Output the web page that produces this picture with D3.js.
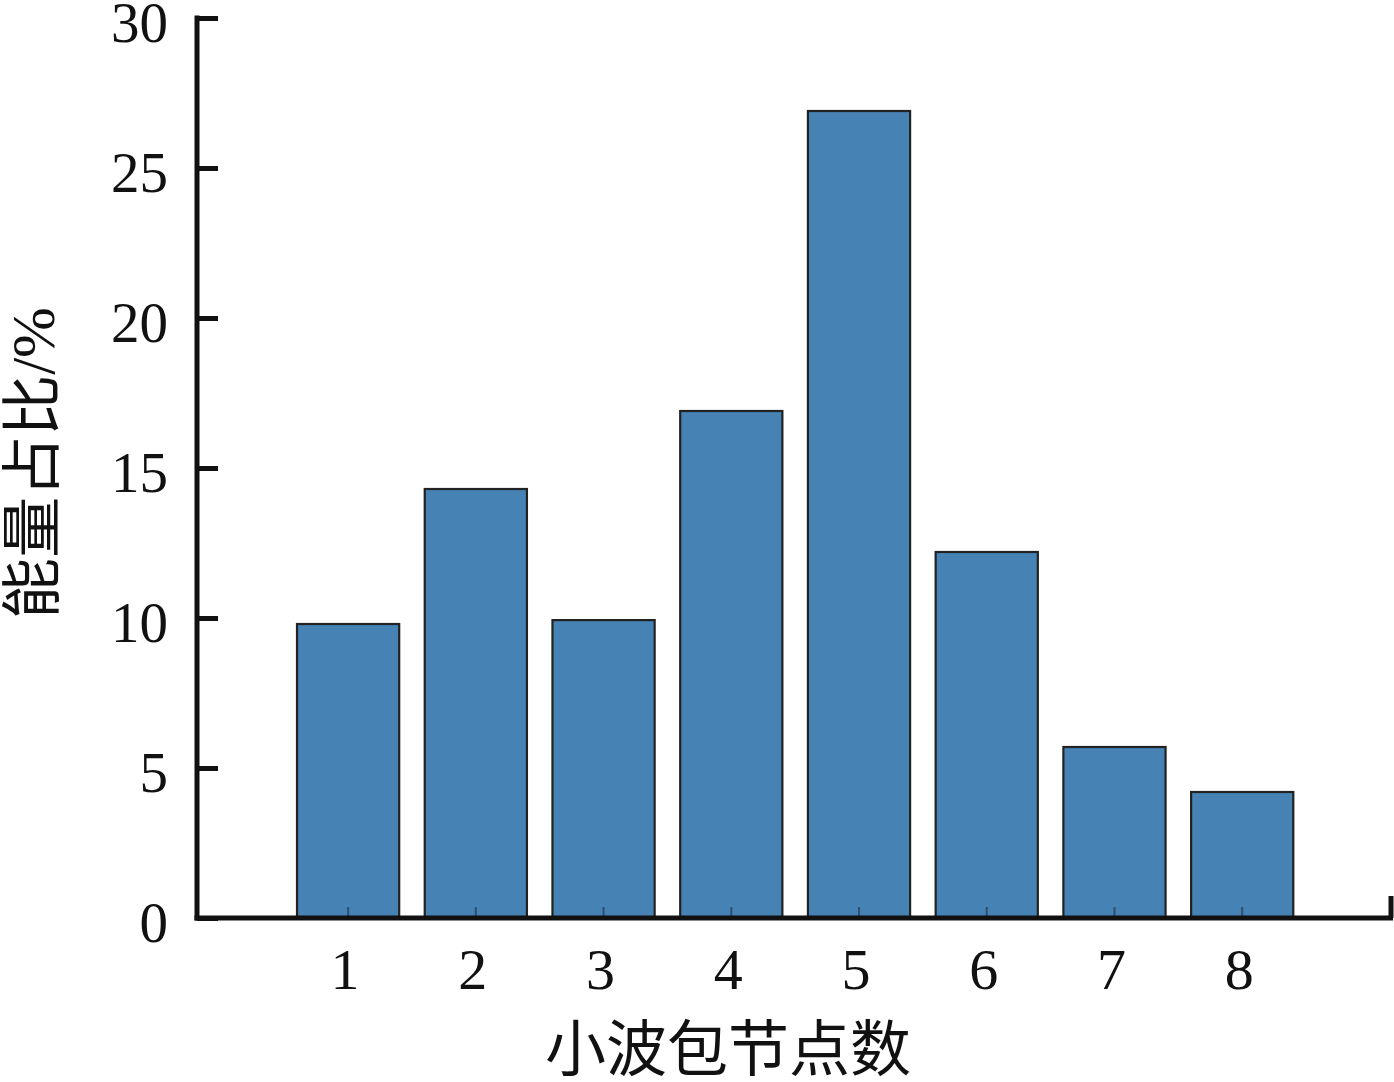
<!DOCTYPE html>
<html>
<head>
<meta charset="utf-8">
<script src="https://cdn.jsdelivr.net/npm/d3@7"></script>
<style>
  html, body { margin: 0; padding: 0; background: #fff; }
  svg { display: block; }
  text { font-family: "Liberation Serif", "Noto Sans CJK SC", serif; fill: #111; }
</style>
</head>
<body>
<svg id="chart" width="1394" height="1082"></svg>
<script>
const categories = [1, 2, 3, 4, 5, 6, 7, 8];
const values = [9.8, 14.3, 9.93, 16.9, 26.9, 12.2, 5.7, 4.2];
const yTicks = [0, 5, 10, 15, 20, 25, 30];
const xTitle = "小波包节点数";
const yTitle = "能量占比/%";

(function () {
const svg = d3.select("#chart");
const mLeft = 197, mRight = 1391, mTop = 18, mBottom = 918;

const x = d3.scaleLinear().domain([-0.183, 9.165]).range([mLeft, mRight]);
const y = d3.scaleLinear().domain([0, 30]).range([mBottom, mTop]);
const barW = x(0.8) - x(0);

// bars
svg.append("g").selectAll("rect").data(categories).join("rect")
  .attr("x", (d) => x(d) - barW / 2)
  .attr("y", (d, i) => y(values[i]))
  .attr("width", barW)
  .attr("height", (d, i) => y(0) - y(values[i]))
  .attr("fill", "#4682b4")
  .attr("stroke", "#222")
  .attr("stroke-width", 2.2);

// small x ticks at bar centers
svg.append("g").selectAll("line").data(categories).join("line")
  .attr("x1", (d) => x(d)).attr("x2", (d) => x(d))
  .attr("y1", mBottom).attr("y2", mBottom - 11)
  .attr("stroke", "#2e4f6e").attr("stroke-width", 2);

// y axis
const yAxis = d3.axisLeft(y).tickValues(yTicks).tickSize(-21).tickPadding(0).tickFormat(d3.format("d"));
const gy = svg.append("g").attr("transform", `translate(${mLeft},0)`).call(yAxis);
gy.select(".domain").remove();
gy.selectAll(".tick line").attr("stroke", "#111").attr("stroke-width", 5);
gy.selectAll(".tick text")
  .attr("x", -29).attr("dy", null).attr("y", 23)
  .attr("text-anchor", "end")
  .style("font-size", "57px").style("font-family", "'Liberation Serif', serif").attr("fill", "#111");

// axis lines
svg.append("line").attr("x1", mLeft).attr("x2", mLeft).attr("y1", mTop - 2.5).attr("y2", mBottom + 2.5)
  .attr("stroke", "#111").attr("stroke-width", 5);
svg.append("line").attr("x1", mLeft - 2.5).attr("x2", mRight + 2).attr("y1", mBottom).attr("y2", mBottom)
  .attr("stroke", "#111").attr("stroke-width", 5);
svg.append("line").attr("x1", mRight).attr("x2", mRight).attr("y1", mBottom).attr("y2", mBottom - 22)
  .attr("stroke", "#111").attr("stroke-width", 5);

// x labels
svg.append("g").selectAll("text").data(categories).join("text")
  .attr("x", (d) => x(d) - 3)
  .attr("y", 989)
  .attr("text-anchor", "middle")
  .style("font-size", "58px")
  .text((d) => d);

// titles
svg.append("text")
  .attr("x", 728).attr("y", 1050)
  .attr("text-anchor", "middle").attr("dominant-baseline", "central")
  .style("font-size", "61px")
  .text(xTitle);

svg.append("text")
  .attr("transform", "translate(33,463) rotate(-90)")
  .attr("text-anchor", "middle").attr("dominant-baseline", "central")
  .style("font-size", "61px")
  .text(yTitle);
})();
</script>
</body>
</html>
